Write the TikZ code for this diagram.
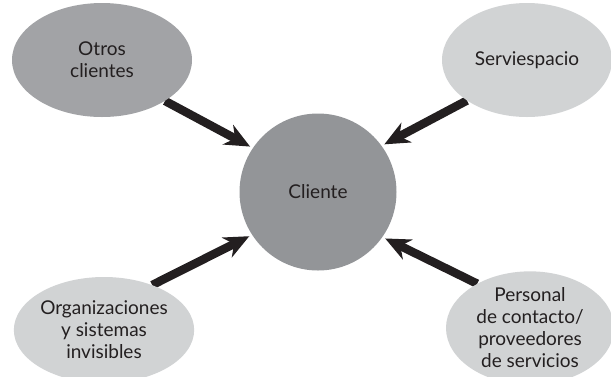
\documentclass[tikz,border=0pt]{standalone}
\usepackage{fontspec}
\setmainfont{Lato}
\usetikzlibrary{shapes.geometric,arrows.meta,backgrounds}
\definecolor{darkgr}{HTML}{939598}
\definecolor{midgr}{HTML}{A2A3A6}
\definecolor{lightgr}{HTML}{D1D3D4}
\definecolor{inkcol}{HTML}{231F20}

\begin{document}
\begin{tikzpicture}[x=1pt,y=-1pt]
\tikzset{every node/.style={align=center, text=inkcol, font=\fontsize{19}{22}\selectfont, inner sep=0pt, draw=none}}
\tikzset{blob/.style={ellipse, minimum width=#1}}
\tikzset{feed/.style={line width=8.5pt, draw=inkcol, shorten >=3pt, -{Stealth[length=25pt,width=22pt,inset=8pt]}}}
\useasboundingbox (0,0) rectangle (611,376);
%%%%%%
\node(cliente)at(318,192)[circle,fill=darkgr,minimum size=157pt]{Cliente};

%%%%%%% outer ellipses
\node(otros)at(102,60)[blob=180pt,minimum height=114pt,fill=midgr]{Otros\\clientes};
\node(servi)at(527,60)[blob=170pt,minimum height=114pt,fill=lightgr]{Serviespacio};
\node(organ)at(104,330)[blob=180pt,minimum height=106pt,fill=lightgr]{Organizaciones\\y sistemas\\invisibles};
\node(perso)at(530,328)[blob=168pt,minimum height=110pt,fill=lightgr]{Personal\\de contacto/\\proveedores\\de servicios};

%%%%%%%
\begin{scope}[on background layer]
\draw[feed] (otros.-33) -- (cliente.146);
\draw[feed] (servi.-146) -- (cliente.36);
\draw[feed] (organ.43) -- (cliente.213);
\draw[feed] (perso.140) -- (cliente.325);
\end{scope}
\end{tikzpicture}
\end{document}
